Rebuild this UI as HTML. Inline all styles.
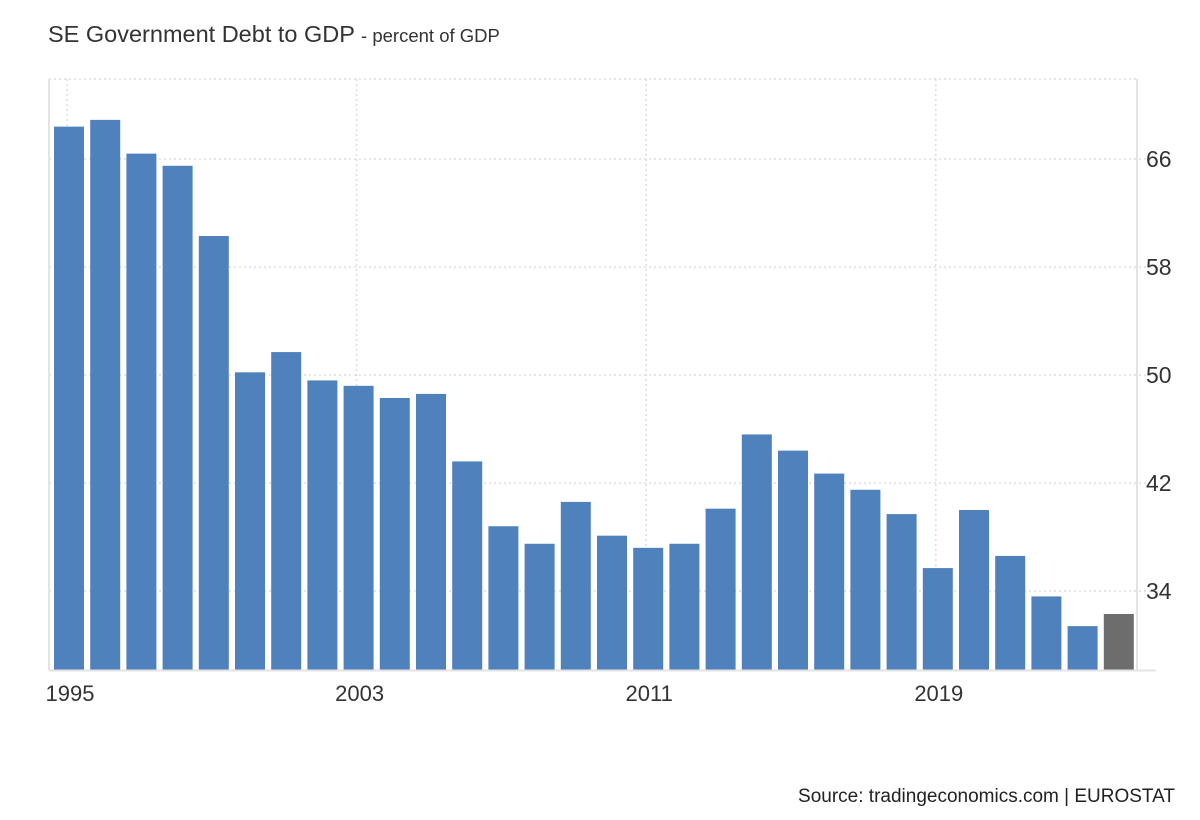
<!DOCTYPE html>
<html><head><meta charset="utf-8"><style>
body{margin:0;background:#fff;font-family:"Liberation Sans",sans-serif;}
svg{display:block}
</style></head><body>
<svg id="c" width="1200" height="820">
<text x="48" y="42" font-size="23.5" fill="#333">SE Government Debt to GDP <tspan font-size="18.5">- percent of GDP</tspan></text>
<text x="1175" y="802" font-size="19" fill="#222" text-anchor="end">Source: tradingeconomics.com | EUROSTAT</text>
<g id="grid"></g><g id="bars"></g><g id="axes"></g>
</svg>
<script>
const years=[1995,1996,1997,1998,1999,2000,2001,2002,2003,2004,2005,2006,2007,2008,2009,2010,2011,2012,2013,2014,2015,2016,2017,2018,2019,2020,2021,2022,2023,2024];
const values=[68.4,68.9,66.4,65.5,60.3,50.2,51.7,49.6,49.2,48.3,48.6,43.6,38.8,37.5,40.6,38.1,37.2,37.5,40.1,45.6,44.4,42.7,41.5,39.7,35.7,40.0,36.6,33.6,31.4,32.3];
const yTicks=[34,42,50,58,66];
const xTicks=[1995,2003,2011,2019];
const NS='http://www.w3.org/2000/svg';
const x0=54,pitch=36.2,bw=30,base=670,pxPerUnit=13.5,yMin=28.15;
const y=v=>base-(v-yMin)*pxPerUnit;
const xi=i=>x0+i*pitch;
function mk(t,a,p){const e=document.createElementNS(NS,t);for(const k in a)e.setAttribute(k,a[k]);p.appendChild(e);return e;}
const grid=document.getElementById('grid'),bars=document.getElementById('bars'),axes=document.getElementById('axes');
let g=mk('line',{x1:49,x2:1137,y1:79,y2:79,stroke:'#ddd','stroke-dasharray':'2,3','stroke-width':1.5},grid);


yTicks.forEach(t=>{
 const l=mk('line',{x1:49,x2:1156,y1:y(t),y2:y(t),stroke:'#ddd','stroke-dasharray':'2,3','stroke-width':1.5},grid);
 
 
 const tx=mk('text',{x:1146,y:y(t)+8,'font-size':23,fill:'#333'},axes);
 tx.textContent=t;
 
 
});
xTicks.forEach(yr=>{
 const i=years.indexOf(yr),cx=xi(i)+bw/2-2;
 const l=mk('line',{x1:cx,x2:cx,y1:79,y2:base,stroke:'#ddd','stroke-dasharray':'2,3','stroke-width':1.5},grid);
 
 
 const tx=mk('text',{x:cx+3,y:701,'font-size':22,fill:'#333','text-anchor':'middle'},axes);
 tx.textContent=yr;
 
 
});
values.forEach((v,i)=>{
 const r=mk('rect',{x:xi(i),y:y(v),width:bw,height:base-y(v),fill:i===values.length-1?'#6d6d6d':'#4f81bd'},bars);
 
 
});
let a=mk('line',{x1:49,x2:49,y1:79,y2:base,stroke:'#e3e3e3','stroke-width':2},axes);


a=mk('line',{x1:1137,x2:1137,y1:79,y2:base,stroke:'#e3e3e3','stroke-width':2},axes);


a=mk('line',{x1:49,x2:1156,y1:base+0.5,y2:base+0.5,stroke:'#e3e3e3','stroke-width':2},axes);


</script>
</body></html>
